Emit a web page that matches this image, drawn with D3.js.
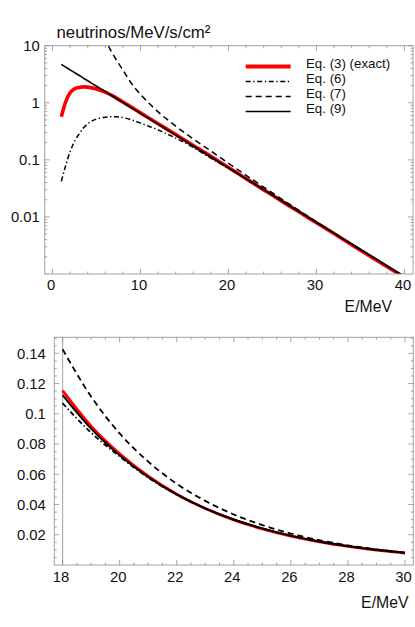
<!DOCTYPE html>
<html>
<head>
<meta charset="utf-8">
<script src="https://cdn.jsdelivr.net/npm/d3@7"></script>
<style>
  html, body { margin: 0; padding: 0; background: #fff; }
  svg { display: block; font-family: "Liberation Sans", Arial, Helvetica, sans-serif; }
</style>
</head>
<body>
<svg id="chart" width="415" height="627"></svg>
<script>
// ---------- data ----------
const energy = [1, 1.5, 2, 2.5, 3, 3.5, 4, 5, 6, 7, 8, 9, 10, 11, 12, 14, 16,
  18, 19, 20, 21, 22, 23, 24, 25, 26, 27, 28, 29, 30, 35, 40];

const eq3Exact = [0.57, 1.05, 1.5, 1.75, 1.86, 1.9, 1.88, 1.75, 1.54, 1.28, 1.03, 0.83, 0.665, 0.535, 0.43, 0.278, 0.179,
  0.1153, 0.0918, 0.0735, 0.0587, 0.0468, 0.0374, 0.0298, 0.0239, 0.0191, 0.0153, 0.0123, 0.0098, 0.0079, 0.0026, 0.00087];

const eq6 = [0.042, 0.08, 0.14, 0.21, 0.28, 0.36, 0.43, 0.52, 0.56, 0.57, 0.55, 0.50, 0.44, 0.385, 0.335, 0.24, 0.165,
  0.107, 0.0875, 0.0718, 0.0578, 0.0465, 0.0374, 0.0300, 0.0241, 0.0193, 0.0155, 0.0124, 0.0100, 0.0080, 0.00268, 0.0009];

const eq7 = [null, null, null, null, null, null, null, 30, 12.7, 6.55, 3.74, 2.15, 1.40, 0.97, 0.693, 0.390, 0.232,
  0.1427, 0.1114, 0.087, 0.0684, 0.0537, 0.0424, 0.0334, 0.0264, 0.0208, 0.0164, 0.0130, 0.01034, 0.0082, 0.0027, 0.0009];

const eq9 = [4.70, 4.21, 3.77, 3.38, 3.03, 2.71, 2.43, 1.95, 1.57, 1.26, 1.01, 0.811, 0.651, 0.523, 0.420, 0.271, 0.1745,
  0.1124, 0.0902, 0.0725, 0.0582, 0.0467, 0.0375, 0.0301, 0.0242, 0.0194, 0.01557, 0.0125, 0.01004, 0.00806, 0.00269, 0.000897];

const seriesNames = ["Eq. (3) (exact)", "Eq. (6)", "Eq. (7)", "Eq. (9)"];

const topXTicks = [0, 10, 20, 30, 40];
const topYTicks = [0.01, 0.1, 1, 10];
const topYTickLabels = ["0.01", "0.1", "1", "10"];
const bottomXTicks = [18, 20, 22, 24, 26, 28, 30];
const bottomYTicks = [0.02, 0.04, 0.06, 0.08, 0.1, 0.12, 0.14];
const bottomYTickLabels = ["0.02", "0.04", "0.06", "0.08", "0.1", "0.12", "0.14"];

const yTitle = "neutrinos/MeV/s/cm²";
const xTitle = "E/MeV";

// ---------- styling ----------
const styles = [
  { color: "#ff0000", width: 3.6, dash: null },
  { color: "#000", width: 1.5, dash: "5,2.6,1.3,2.6" },
  { color: "#000", width: 1.5, dash: "6,4" },
  { color: "#000", width: 1.6, dash: null }
];
const frameColor = "#a0a0a0";
const tickColor = "#909090";

const series = [eq3Exact, eq6, eq7, eq9].map((vals, i) => ({
  name: seriesNames[i],
  style: styles[i],
  points: energy.map((e, j) => ({ e, v: vals[j] }))
}));

const svg = d3.select("#chart");

function drawPanel(opts) {
  const { left, right, top, bottom, x, y, id } = opts;
  const g = svg.append("g");
  svg.append("clipPath").attr("id", id)
    .append("rect").attr("x", left).attr("y", top).attr("width", right - left).attr("height", bottom - top);

  if (opts.axisLineAt !== undefined) {
    g.append("line")
      .attr("x1", x(opts.axisLineAt)).attr("x2", x(opts.axisLineAt))
      .attr("y1", top).attr("y2", bottom)
      .attr("stroke", "#b0b0b0").attr("stroke-width", 1.2);
  }

  const line = d3.line()
    .defined(d => d.v !== null && d.v !== undefined)
    .x(d => x(d.e)).y(d => y(d.v))
    .curve(d3.curveMonotoneX);
  const cg = g.append("g").attr("clip-path", `url(#${id})`);
  series.forEach(s => {
    const pts = s.points.filter(opts.filter);
    cg.append("path")
      .datum(pts)
      .attr("d", line)
      .attr("fill", "none")
      .attr("stroke", s.style.color)
      .attr("stroke-width", opts.widthScale ? s.style.width * opts.widthScale(s) : s.style.width)
      .attr("stroke-dasharray", s.style.dash)
      .attr("stroke-linejoin", "round");
  });

  g.append("rect").attr("x", left).attr("y", top).attr("width", right - left).attr("height", bottom - top)
    .attr("fill", "none").attr("stroke", frameColor).attr("stroke-width", 1);

  const tg = g.append("g").attr("stroke", tickColor).attr("stroke-width", 0.8);
  opts.xMajor.forEach(t => {
    const px = x(t);
    tg.append("line").attr("x1", px).attr("x2", px).attr("y1", bottom).attr("y2", bottom - 5);
    tg.append("line").attr("x1", px).attr("x2", px).attr("y1", top).attr("y2", top + 5);
  });
  opts.xMinor.forEach(t => {
    const px = x(t);
    tg.append("line").attr("x1", px).attr("x2", px).attr("y1", bottom).attr("y2", bottom - 2.5);
    tg.append("line").attr("x1", px).attr("x2", px).attr("y1", top).attr("y2", top + 2.5);
  });
  opts.yMajor.forEach(t => {
    const py = y(t);
    tg.append("line").attr("x1", left).attr("x2", left + 5).attr("y1", py).attr("y2", py);
    tg.append("line").attr("x1", right).attr("x2", right - 5).attr("y1", py).attr("y2", py);
  });
  opts.yMinor.forEach(t => {
    const py = y(t);
    tg.append("line").attr("x1", left).attr("x2", left + 2.5).attr("y1", py).attr("y2", py);
    tg.append("line").attr("x1", right).attr("x2", right - 2.5).attr("y1", py).attr("y2", py);
  });

  opts.xLabels.forEach((t, i) => {
    g.append("text").attr("x", x(t) - 1.5).attr("y", bottom + opts.xLabelOffset)
      .attr("text-anchor", "middle").attr("font-size", 14.8).attr("fill", "#111")
      .text(opts.xLabelText[i]);
  });
  opts.yLabels.forEach((t, i) => {
    g.append("text").attr("x", left - opts.yLabelGap).attr("y", y(t)).attr("dy", "0.36em")
      .attr("text-anchor", "end").attr("font-size", 14.8).attr("fill", "#111")
      .text(opts.yLabelText[i]);
  });

  g.append("text").attr("x", opts.xTitleX).attr("y", opts.xTitleY)
    .attr("text-anchor", "end").attr("font-size", 15.8).attr("fill", "#111").text(xTitle);
  return g;
}

// ---------- top panel (log) ----------
const tL = 44.7, tR = 413, tT = 45.7, tB = 274;
const xTop = d3.scaleLinear().domain([-0.89, 40.97]).range([tL, tR]);
const yTop = d3.scaleLog().domain([0.001, 10]).range([tB, tT]);
const topXMinor = d3.range(0, 41, 2).filter(v => v % 10 !== 0);
const topYMinor = [];
[0.001, 0.01, 0.1, 1].forEach(dec => { for (let k = 2; k <= 9; k++) topYMinor.push(dec * k); });

drawPanel({
  id: "clipTop", left: tL, right: tR, top: tT, bottom: tB, x: xTop, y: yTop,
  filter: () => true,
  xMajor: topXTicks, xMinor: topXMinor,
  yMajor: topYTicks, yMinor: topYMinor,
  xLabels: topXTicks, xLabelText: topXTicks.map(String), xLabelOffset: 16,
  yLabels: topYTicks, yLabelText: topYTickLabels, yLabelGap: 5,
  xTitleX: 392, xTitleY: 311.5
});

svg.append("text").attr("x", 56.5).attr("y", 38.3)
  .attr("font-size", 16.8).attr("fill", "#111").text(yTitle);

// legend
const legX1 = 245.7, legX2 = 290.7, legTextX = 306, legY0 = 66.5, legStep = 15;
const lg = svg.append("g");
series.forEach((s, i) => {
  const yy = legY0 + i * legStep;
  lg.append("line").attr("x1", legX1).attr("x2", legX2).attr("y1", yy).attr("y2", yy)
    .attr("stroke", s.style.color).attr("stroke-width", i === 0 ? 4 : s.style.width)
    .attr("stroke-dasharray", s.style.dash);
  lg.append("text").attr("x", legTextX).attr("y", yy + 1)
    .attr("font-size", 13.3).attr("fill", "#111").text(s.name);
});

// ---------- bottom panel (linear) ----------
const bL = 54.3, bR = 413.3, bT = 337.3, bB = 565;
const xBot = d3.scaleLinear().domain([17.71, 30.29]).range([bL, bR]);
const yBot = d3.scaleLinear().domain([0, 0.1506]).range([bB, bT]);
const botXMinor = d3.range(18, 30.01, 0.5).filter(v => Math.abs(v % 2) > 1e-9);
const botYMinor = d3.range(0.005, 0.1501, 0.005).filter(v => Math.abs((v / 0.02) - Math.round(v / 0.02)) > 1e-6);

drawPanel({
  id: "clipBot", left: bL, right: bR, top: bT, bottom: bB, x: xBot, y: yBot,
  filter: d => d.e >= 18 && d.e <= 30,
  axisLineAt: 18,
  widthScale: s => (s.style.color === "#ff0000" ? 0.8 : 1.2),
  xMajor: bottomXTicks, xMinor: botXMinor,
  yMajor: bottomYTicks, yMinor: botYMinor,
  xLabels: bottomXTicks, xLabelText: bottomXTicks.map(String), xLabelOffset: 16.7,
  yLabels: bottomYTicks, yLabelText: bottomYTickLabels, yLabelGap: 8.5,
  xTitleX: 408.5, xTitleY: 608.3
});
</script>
</body>
</html>
